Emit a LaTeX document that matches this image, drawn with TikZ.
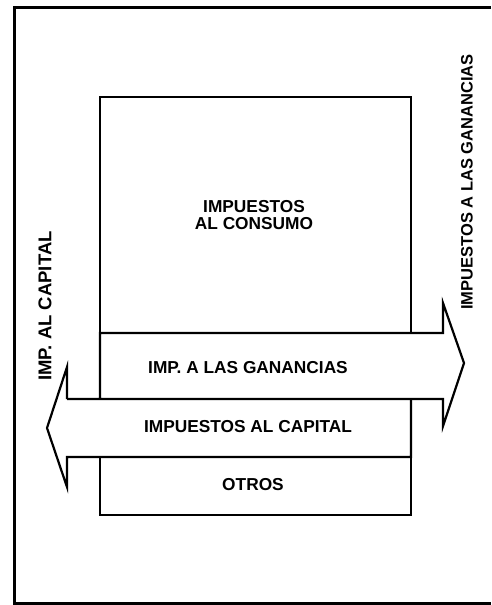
\documentclass[tikz,border=0pt]{standalone}
\usepackage{fontspec}
\setmainfont{Liberation Sans}
\begin{document}
\begin{tikzpicture}[x=1pt,y=-1pt,
  frame/.style={line width=3pt,line join=miter},
  box/.style={line width=2.2pt,line join=miter},
  lbl/.style={font=\bfseries\fontsize{17.3}{17.5}\selectfont,inner sep=0pt,align=center}]
\useasboundingbox (0,0) rectangle (491,605);
% outer frame (open at right)
\draw[frame] (491,7) -- (14,7) -- (14,603) -- (491,603);
% consumption box
\draw[box] (100,333) -- (100,97) -- (411,97) -- (411,333);
% ganancias arrow (to the right)
\draw[box] (100,399) -- (100,333) -- (443,333) -- (443,303) -- (464,363) -- (443,426) -- (443,399) -- (67,399);
% capital arrow (to the left)
\draw[box] (411,399) -- (411,457) -- (67,457) -- (67,487) -- (47,428) -- (67,367) -- (67,399);
% otros box
\draw[box] (100,457) -- (100,515) -- (411,515) -- (411,457);
% labels
\node[lbl] (consumo) at (254,215) {IMPUESTOS\\AL CONSUMO};
\node[lbl] (ganancias) at (248,368) {IMP. A LAS GANANCIAS};
\node[lbl] (capital) at (248,427) {IMPUESTOS AL CAPITAL};
\node[lbl] (otros) at (253,485) {OTROS};
\node[lbl,font=\bfseries\fontsize{16.5}{17.5}\selectfont,rotate=90] (gansalida) at (467,182) {IMPUESTOS A LAS GANANCIAS};
\node[lbl,font=\bfseries\fontsize{18.5}{19}\selectfont,rotate=90] (capsalida) at (45,306) {IMP. AL CAPITAL};
\end{tikzpicture}
\end{document}
